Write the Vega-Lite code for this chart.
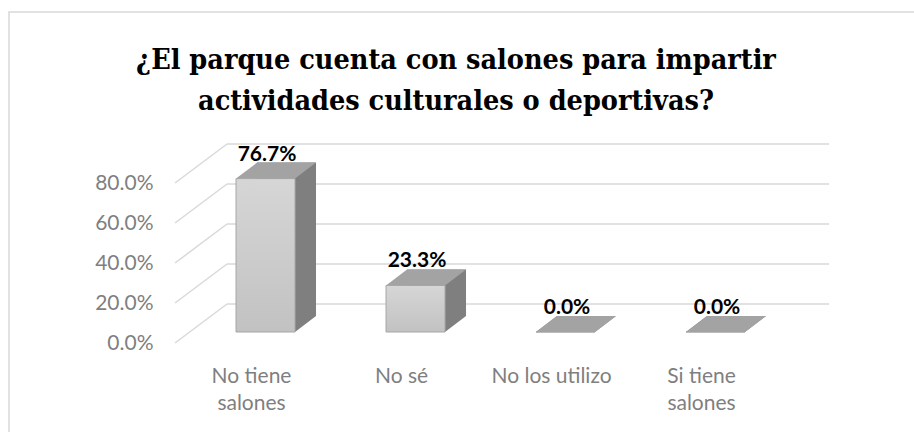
{
  "$schema": "https://vega.github.io/schema/vega-lite/v6.json",
  "autosize": {"type": "none"},
  "padding": {"left": 9, "top": 12, "right": 0, "bottom": 0},
  "width": 910,
  "height": 430,
  "background": "white",
  "config": {
    "view": {"stroke": "#d9d9d9", "strokeWidth": 1.5, "fill": "white"}
  },
  "title": {
    "text": ["¿El parque cuenta con salones para impartir", "actividades culturales o deportivas?"],
    "font": "DejaVu Serif Condensed, DejaVu Serif",
    "fontWeight": "bold",
    "fontSize": 28.5,
    "lineHeight": 41,
    "color": "#000000",
    "anchor": "middle",
    "frame": "group",
    "orient": "top",
    "baseline": "top",
    "offset": -103,
    "dx": -8
  },
  "datasets": {
    "bars": [
      {"cat": "No tiene salones", "pct": 0.767},
      {"cat": "No sé", "pct": 0.233},
      {"cat": "No los utilizo", "pct": 0.0},
      {"cat": "Si tiene salones", "pct": 0.0}
    ],
    "ticks": [{"v": 0}, {"v": 0.2}, {"v": 0.4}, {"v": 0.6}, {"v": 0.8}]
  },
  "resolve": {"scale": {"x": "independent"}},
  "layer": [
    {
      "data": {"name": "ticks"},
      "mark": {"type": "rule", "color": "#d9d9d9", "strokeWidth": 1.5, "yOffset": -28},
      "encoding": {
        "x": {"datum": 0, "type": "quantitative", "scale": {"domain": [0, 1], "range": [218, 820]}, "axis": null},
        "x2": {"datum": 1},
        "y": {"field": "v", "type": "quantitative",
          "scale": {"domain": [0, 0.8], "range": [320, 160], "nice": false},
          "axis": {
            "title": null, "values": [0, 0.2, 0.4, 0.6, 0.8], "format": ".1%",
            "grid": false, "domain": false, "ticks": false,
            "offset": -166, "labelPadding": 22, "labelOffset": 11,
            "labelFont": "Lato", "labelFontSize": 21, "labelColor": "#7f7f7f"
          }
        }
      }
    },
    {
      "data": {"name": "ticks"},
      "mark": {"type": "point", "shape": "M-1,0.75L1,-0.75", "size": 2704, "filled": false, "stroke": "#d9d9d9", "strokeWidth": 1.5, "opacity": 1, "xOffset": -26, "yOffset": -8.5},
      "encoding": {
        "x": {"datum": 0, "type": "quantitative", "scale": {"domain": [0, 1], "range": [218, 820]}, "axis": null},
        "y": {"field": "v", "type": "quantitative"}
      }
    },
    {
      "data": {"name": "bars"},
      "layer": [
        {
          "mark": {"type": "bar", "color": "#7f7f7f", "xOffset": 21, "yOffset": -16, "y2Offset": -16},
          "encoding": {
            "x": {"field": "cat", "type": "nominal", "sort": null,
              "scale": {"range": [218, 820], "paddingInner": 0.6067, "paddingOuter": 0.31, "align": 0.097},
              "axis": {
                "title": null, "domain": false, "ticks": false, "labelAngle": 0,
                "offset": -110, "labelPadding": 33, "labelOffset": -14,
                "labelFont": "Lato", "labelFontSize": 21, "labelColor": "#7f7f7f", "labelLineHeight": 27,
                "labelExpr": "datum.value == 'No tiene salones' ? ['No tiene', 'salones'] : datum.value == 'Si tiene salones' ? ['Si tiene', 'salones'] : datum.value"
              }
            },
            "y": {"field": "pct", "type": "quantitative"}
          }
        },
        {
          "mark": {"type": "point", "shape": "M-1,0.2L0.475,0.2L1,-0.2L-0.475,-0.2Z", "size": 6400, "filled": true, "color": "#7f7f7f", "opacity": 1, "strokeWidth": 0, "xOffset": 10.5, "yOffset": -8},
          "encoding": {
            "x": {"field": "cat", "type": "nominal", "sort": null},
            "y": {"datum": 0, "type": "quantitative"}
          }
        },
        {
          "mark": {"type": "bar", "stroke": "#a6a6a6", "strokeWidth": 1,
            "color": {"gradient": "linear", "x1": 0, "y1": 0, "x2": 0, "y2": 1,
              "stops": [{"offset": 0, "color": "#d6d6d6"}, {"offset": 1, "color": "#c2c2c2"}]}},
          "encoding": {
            "x": {"field": "cat", "type": "nominal", "sort": null},
            "y": {"field": "pct", "type": "quantitative"}
          }
        },
        {
          "mark": {"type": "point", "shape": "M-1,0.2L0.475,0.2L1,-0.2L-0.475,-0.2Z", "size": 6400, "filled": true, "color": "#a3a3a3", "opacity": 1, "strokeWidth": 0, "xOffset": 10.5, "yOffset": -8},
          "encoding": {
            "x": {"field": "cat", "type": "nominal", "sort": null},
            "y": {"field": "pct", "type": "quantitative"}
          }
        },
        {
          "mark": {"type": "text", "font": "Lato", "fontWeight": "bold", "fontSize": 21, "color": "#000000", "baseline": "middle", "dy": -24, "dx": 1.5},
          "encoding": {
            "x": {"field": "cat", "type": "nominal", "sort": null},
            "y": {"field": "pct", "type": "quantitative"},
            "text": {"field": "pct", "type": "quantitative", "format": ".1%"}
          }
        }
      ]
    }
  ]
}
